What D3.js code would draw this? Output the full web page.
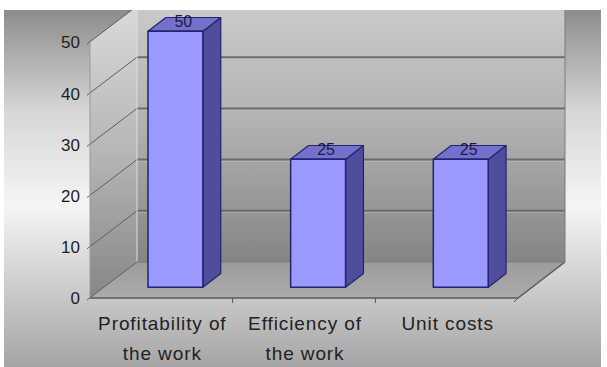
<!DOCTYPE html>
<html>
<head>
<meta charset="utf-8">
<script src="https://cdn.jsdelivr.net/npm/d3@7"></script>
<style>
  body { margin: 0; background: #fff; }
  svg { display: block; font-family: "Liberation Sans", Arial, sans-serif; }
</style>
</head>
<body>
<div id="graf"></div>
<script>
// data
const categorias = [["Profitability of", "the work"], ["Efficiency of", "the work"], ["Unit costs"]];
const valores = [50, 25, 25];
const ticksY = [0, 10, 20, 30, 40, 50];

const ancho_total = 607;
const alto_total = 367;

// 3D depth offset of the walls
const prof = { dx: 47, dy: -36 };
const barDepth = [0.3, 0.68];

const svg = d3.select("#graf").append("svg")
  .attr("width", ancho_total)
  .attr("height", alto_total);

const defs = svg.append("defs");

const grad = (id, stops) => {
  const lg = defs.append("linearGradient").attr("id", id)
    .attr("x1", 0).attr("y1", 0).attr("x2", 0).attr("y2", 1);
  stops.forEach(s => lg.append("stop").attr("offset", s[0]).attr("stop-color", s[1]));
};
grad("bgGrad", [[0, "#8c8c8c"], [0.28, "#d6d6d6"], [0.55, "#f5f5f5"], [0.75, "#d2d2d2"], [1, "#a5a5a5"]]);
grad("backGrad", [[0, "#cacaca"], [0.45, "#b2b2b2"], [1, "#858585"]]);
grad("leftGrad", [[0, "#dadada"], [0.5, "#b6b6b6"], [1, "#868686"]]);
grad("floorGrad", [[0, "#9c9c9c"], [1, "#ababab"]]);

defs.append("clipPath").attr("id", "area")
  .append("rect").attr("x", 4).attr("y", 10).attr("width", 597).attr("height", 357);

const g = svg.append("g").attr("clip-path", "url(#area)");

g.append("rect")
  .attr("x", 4).attr("y", 10).attr("width", 597).attr("height", 357)
  .attr("fill", "url(#bgGrad)");

// scales (front plane)
const x0 = 90, x1 = 518;
const y = d3.scaleLinear().domain([0, 50]).range([298, 42]);
const x = d3.scaleBand().domain(d3.range(categorias.length)).range([x0, x1]);
const xb = d3.scaleBand().domain(d3.range(categorias.length)).range([x0, x1])
  .paddingInner(0.615).paddingOuter(0.3075);

const P = (px, v, d) => [px + prof.dx * d, y(v) + prof.dy * d];
const poly = pts => pts.map(p => p.join(",")).join(" ");

const vmin = y.domain()[0], vmax = y.domain()[1];

// back wall
g.append("polygon")
  .attr("points", poly([P(x0, vmin, 1), P(x1, vmin, 1), P(x1, vmax, 1), P(x0, vmax, 1)]))
  .attr("fill", "url(#backGrad)");

// left wall
g.append("polygon")
  .attr("points", poly([P(x0, vmin, 0), P(x0, vmin, 1), P(x0, vmax, 1), P(x0, vmax, 0)]))
  .attr("fill", "url(#leftGrad)");

// floor
g.append("polygon")
  .attr("points", poly([P(x0, vmin, 0), P(x1, vmin, 0), P(x1, vmin, 1), P(x0, vmin, 1)]))
  .attr("fill", "url(#floorGrad)");

// gridlines on back wall
ticksY.filter(t => t > 0).forEach(t => {
  const a = P(x0, t, 1), b = P(x1, t, 1);
  g.append("line").attr("x1", a[0]).attr("y1", a[1] + 1.5).attr("x2", b[0]).attr("y2", b[1] + 1.5)
    .attr("stroke", "#d0d0d0").attr("stroke-opacity", 0.5).attr("stroke-width", 1);
  g.append("line").attr("x1", a[0]).attr("y1", a[1]).attr("x2", b[0]).attr("y2", b[1])
    .attr("stroke", "#6c6c6c").attr("stroke-width", 2);
});

// diagonal lines on the left wall
ticksY.forEach(t => {
  const a = P(x0, t, 0), b = P(x0, t, 1);
  g.append("line").attr("x1", a[0] - 3).attr("y1", a[1] + 2).attr("x2", b[0]).attr("y2", b[1])
    .attr("stroke", "#5e5e5e").attr("stroke-width", 1);
});

// wall edges
g.append("line").attr("x1", P(x0, vmin, 1)[0]).attr("y1", P(x0, vmin, 1)[1])
  .attr("x2", P(x0, vmax, 1)[0]).attr("y2", P(x0, vmax, 1)[1])
  .attr("stroke", "#dedede").attr("stroke-width", 1);
g.append("line").attr("x1", x0).attr("y1", y(vmin)).attr("x2", x0).attr("y2", y(vmax))
  .attr("stroke", "#9a9a9a").attr("stroke-width", 1);
g.append("polyline")
  .attr("points", poly([P(x0, vmin, 0), P(x1, vmin, 0), P(x1, vmin, 1)]))
  .attr("fill", "none").attr("stroke", "#5a5a5a").attr("stroke-width", 1.5);
g.append("polyline")
  .attr("points", poly([P(x0, vmin, 1), P(x1, vmin, 1), P(x1, vmax, 1)]))
  .attr("fill", "none").attr("stroke", "#7a7a7a").attr("stroke-width", 1);

// category boundary ticks
x.domain().forEach(i => {
  const px = x(i) + x.bandwidth();
  if (i < categorias.length - 1) {
    g.append("line").attr("x1", px).attr("y1", y(0)).attr("x2", px).attr("y2", y(0) + 5)
      .attr("stroke", "#555").attr("stroke-width", 1);
  }
});
g.append("line").attr("x1", x1).attr("y1", y(0)).attr("x2", x1 - 4).attr("y2", y(0) + 4)
  .attr("stroke", "#555").attr("stroke-width", 1);

// bars
const bars = g.selectAll(".bar").data(valores).enter().append("g").attr("class", "bar");
const [d0, d1] = barDepth;
const stroke = "#23236e";

bars.append("polygon") // side
  .attr("points", (v, i) => {
    const r = xb(i) + xb.bandwidth();
    return poly([P(r, 0, d0), P(r, 0, d1), P(r, v, d1), P(r, v, d0)]);
  })
  .attr("fill", "#4e4e9c").attr("stroke", stroke).attr("stroke-width", 1.2).attr("stroke-linejoin", "round");

bars.append("polygon") // top
  .attr("points", (v, i) => {
    const l = xb(i), r = xb(i) + xb.bandwidth();
    return poly([P(l, v, d0), P(r, v, d0), P(r, v, d1), P(l, v, d1)]);
  })
  .attr("fill", "#7272cc").attr("stroke", stroke).attr("stroke-width", 1.2).attr("stroke-linejoin", "round");

bars.append("polygon") // front
  .attr("points", (v, i) => {
    const l = xb(i), r = xb(i) + xb.bandwidth();
    return poly([P(l, 0, d0), P(r, 0, d0), P(r, v, d0), P(l, v, d0)]);
  })
  .attr("fill", "#9999ff").attr("stroke", stroke).attr("stroke-width", 1.5).attr("stroke-linejoin", "round");

// value labels
bars.append("text")
  .attr("x", (v, i) => P(xb(i) + xb.bandwidth() / 2, v, (d0 + d1) / 2)[0] - 1)
  .attr("y", (v, i) => P(xb(i), v, (d0 + d1) / 2)[1] + 3)
  .attr("text-anchor", "middle")
  .attr("font-size", "16px")
  .attr("fill", "#1a1a40")
  .text(v => v);

// y axis labels
const yAxis = d3.axisLeft(y).tickValues(ticksY).tickSize(0).tickPadding(0);
const yAxisGroup = g.append("g").attr("transform", "translate(80,0)").call(yAxis);
yAxisGroup.select(".domain").remove();
yAxisGroup.selectAll("text")
  .attr("font-size", "17px")
  .attr("font-family", "Liberation Sans, Arial, sans-serif")
  .attr("fill", "#1e1e1e")
  .attr("dy", "0.35em");

// category labels
const cat = g.selectAll(".cat").data(categorias).enter().append("text")
  .attr("class", "cat")
  .attr("text-anchor", "middle")
  .attr("font-size", "19px")
  .attr("letter-spacing", "0.9px")
  .attr("fill", "#222");
cat.each(function (lineas, i) {
  d3.select(this).selectAll("tspan").data(lineas).enter().append("tspan")
    .attr("x", x(i) + x.bandwidth() / 2 + 1)
    .attr("y", (l, j) => 330 + j * 30)
    .text(l => l);
});
</script>
</body>
</html>
